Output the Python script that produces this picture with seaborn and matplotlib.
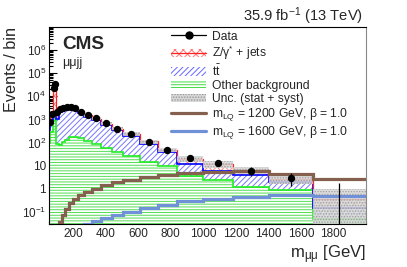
import numpy as np
import pandas as pd
import matplotlib
matplotlib.use("Agg")
import matplotlib.pyplot as plt
import matplotlib.ticker as mticker
from matplotlib.patches import Patch
from matplotlib.lines import Line2D
import seaborn as sns

# ── Data ───────────────────────────────────────────────
bin_edges = [50, 60, 75, 85, 95, 110, 130, 148, 173, 198, 228, 265, 314, 370,
             437, 505, 610, 720, 837, 997, 1182, 1403, 1674, 2000]
data_counts = [740, 1800, 22000, 33000, 2200, 2700, 3000, 3300, 3300, 3000, 2200,
               1500, 1100, 670, 400, 245, 110, 50, 22, 13, 6, 3, 0]
data_err_up = [27, 42, 148, 182, 47, 52, 55, 57, 57, 55, 47,
               39, 33, 26, 20, 16, 10.5, 7.1, 4.7, 3.6, 2.4, 1.73, 1.84]
data_err_dn = [27, 42, 148, 182, 47, 52, 55, 57, 57, 55, 47,
               39, 33, 26, 20, 16, 10.5, 7.1, 4.7, 3.6, 2.4, 1.73, 0]
other_bkg = [100, 300, 900, 1000, 90, 80, 110, 130, 180, 180, 160,
             120, 90, 60, 40, 27, 15, 10, 3.6, 2.4, 1.2, 0.9, 0.05]
ttbar_bkg = [250, 500, 600, 700, 1000, 2000, 2400, 2700, 2700, 2450, 1800,
             1200, 850, 510, 300, 170, 75, 30, 8.4, 3.6, 2.9, 1.1, 0.1]
zjets_bkg = [400, 1100, 20000, 31000, 1000, 500, 450, 450, 400, 350, 270,
             180, 140, 90, 60, 45, 22, 10, 8, 6, 2.6, 0.7, 0.2]
bkg_rel_unc = [0.15, 0.12, 0.10, 0.10, 0.12, 0.12, 0.12, 0.12, 0.12, 0.12, 0.12,
               0.13, 0.14, 0.15, 0.16, 0.18, 0.20, 0.22, 0.28, 0.35, 0.35, 0.40, 1.9]
lq1200 = [0.001, 0.001, 0.001, 0.001, 0.01, 0.035, 0.074, 0.135, 0.25, 0.37, 0.55,
          0.74, 1.0, 1.5, 2.0, 2.5, 3.3, 4.1, 5.0, 5.5, 6.1, 4.5, 2.7]
lq1600 = [0.001, 0.001, 0.001, 0.001, 0.001, 0.001, 0.001, 0.002, 0.004, 0.008, 0.02,
          0.03, 0.04, 0.055, 0.074, 0.1, 0.15, 0.2, 0.3, 0.37, 0.45, 0.55, 0.5]

ytick_vals = [0.1, 1, 10, 1e2, 1e3, 1e4, 1e5, 1e6]
ytick_labels = [r"$10^{-1}$", "1", "10", r"$10^{2}$", r"$10^{3}$", r"$10^{4}$",
                r"$10^{5}$", r"$10^{6}$"]
xtick_vals = [200, 400, 600, 800, 1000, 1200, 1400, 1600, 1800]

# ── Style ──────────────────────────────────────────────
sns.set_theme(style="ticks")
plt.rcParams.update({
    "font.family": ["Liberation Sans", "DejaVu Sans"],
    "mathtext.fontset": "custom",
    "mathtext.rm": "Liberation Sans",
    "mathtext.it": "Liberation Sans:italic",
    "mathtext.bf": "Liberation Sans:bold",
    "hatch.linewidth": 0.7,
    "axes.linewidth": 0.8,
    "axes.edgecolor": "black",
})
GREEN = "#22ee22"
BLUE = "#0000ff"
RED = "#ff2222"
BROWN = "#86604f"
SKY = "#7090d8"

edges = np.array(bin_edges, dtype=float)
centres = 0.5 * (edges[1:] + edges[:-1])
other = np.array(other_bkg)
lvl_tt = other + np.array(ttbar_bkg)
total = lvl_tt + np.array(zjets_bkg)
unc = total * np.array(bkg_rel_unc)
floor = 1e-4

fig, ax = plt.subplots(figsize=(4.07, 2.67), dpi=100)
fig.subplots_adjust(left=0.120, right=0.899, bottom=0.161, top=0.899)

# stacked backgrounds
ax.stairs(other, edges, baseline=floor, fill=True, facecolor="white",
          edgecolor="#55dd55", hatch="------", linewidth=0)
ax.stairs(lvl_tt, edges, baseline=other, fill=True, facecolor="white",
          edgecolor="#7777ff", hatch="//////", linewidth=0)
ax.stairs(total, edges, baseline=lvl_tt, fill=True, facecolor="white",
          edgecolor="#ff8888", hatch="xxxx", linewidth=0)
ax.stairs(other, edges, baseline=None, color=GREEN, lw=1.2)
ax.stairs(lvl_tt, edges, baseline=None, color=BLUE, lw=1.2)
ax.stairs(total, edges, baseline=None, color=RED, lw=0.9)

# uncertainty band
band_lo = np.clip(total - unc, floor, None)
ax.stairs(total + unc, edges, baseline=band_lo, fill=True, facecolor="#d8d8d8",
          edgecolor="#999999", hatch="......", linewidth=0, alpha=0.85)

# signals
ax.stairs(lq1200, edges, baseline=None, color=BROWN, lw=2.3)
ax.stairs(lq1600, edges, baseline=None, color=SKY, lw=2.3)

# data
df = pd.DataFrame({"mass": centres, "events": data_counts,
                   "up": data_err_up, "dn": data_err_dn})
nz = df[df["events"] > 0]
ax.errorbar(df["mass"], df["events"].clip(lower=floor),
            yerr=[df["dn"], df["up"]], fmt="none", ecolor="black",
            elinewidth=0.9, capsize=0, zorder=5)
sns.scatterplot(data=nz, x="mass", y="events", color="black", s=28,
                edgecolor="black", linewidth=0, zorder=6, ax=ax, legend=False)

# axes
ax.set_yscale("log")
ax.set_xlim(50, 2000)
ax.set_ylim(0.03, 1e7)
ax.yaxis.set_major_locator(mticker.FixedLocator(ytick_vals))
ax.yaxis.set_major_formatter(mticker.FixedFormatter(ytick_labels))
ax.yaxis.set_minor_locator(mticker.LogLocator(base=10, subs=np.arange(2, 10), numticks=30))
ax.yaxis.set_minor_formatter(mticker.NullFormatter())
ax.xaxis.set_major_locator(mticker.FixedLocator(xtick_vals))
ax.xaxis.set_minor_locator(mticker.MultipleLocator(50))
ax.tick_params(axis="both", which="both", direction="in", top=False, right=False,
               labelsize=8.5, width=0.8, color="black")
ax.tick_params(axis="y", which="major", length=5.5, pad=2)
ax.tick_params(axis="y", which="minor", length=3)
ax.tick_params(axis="x", which="major", length=4, pad=3)
ax.tick_params(axis="x", which="minor", length=2)
ax.spines["right"].set_color("#888888")

ax.set_xlabel(r"m$_{\mathrm{\mu\mu}}$ [GeV]", fontsize=12, loc="right", labelpad=2)
ax.set_ylabel("Events / bin", fontsize=11.7, loc="top", labelpad=2)

ax.text(0.041, 0.955, "CMS", transform=ax.transAxes, fontsize=13.7,
        fontweight="bold", va="top", ha="left")
ax.text(0.041, 0.85, "μμjj", transform=ax.transAxes, fontsize=9,
        va="top", ha="left")
fig.text(0.892, 0.921, r"35.9 fb$^{-1}$ (13 TeV)", fontsize=10.6,
         ha="right", va="baseline")

handles = [
    Line2D([0], [0], color="black", marker="o", markersize=5, lw=0.9),
    (Patch(facecolor="white", edgecolor="#ff7777", hatch="xxxx", linewidth=0),
     Line2D([0], [0], color=RED, lw=0.9)),
    Patch(facecolor="white", edgecolor="#6666ff", hatch="//////", linewidth=0),
    Patch(facecolor="white", edgecolor="#44dd44", hatch="------", linewidth=0),
    Patch(facecolor="#d8d8d8", edgecolor="#999999", hatch="......", linewidth=0),
    Line2D([0], [0], color=BROWN, lw=2.3),
    Line2D([0], [0], color=SKY, lw=2.3),
]
labels = [
    "Data",
    r"Z/γ$^{*}$ + jets",
    r"t$\bar{\mathrm{t}}$",
    "Other background",
    "Unc. (stat + syst)",
    r"m$_{\mathrm{LQ}}$ = 1200 GeV, β = 1.0",
    r"m$_{\mathrm{LQ}}$ = 1600 GeV, β = 1.0",
]
ax.legend(handles, labels, loc="upper left", bbox_to_anchor=(0.375, 1.0),
          frameon=False, fontsize=8.7, handlelength=2.9, handletextpad=0.5,
          labelspacing=0.1, borderpad=0.3, borderaxespad=0)

plt.savefig("out.png", dpi=100)
plt.close(fig)
